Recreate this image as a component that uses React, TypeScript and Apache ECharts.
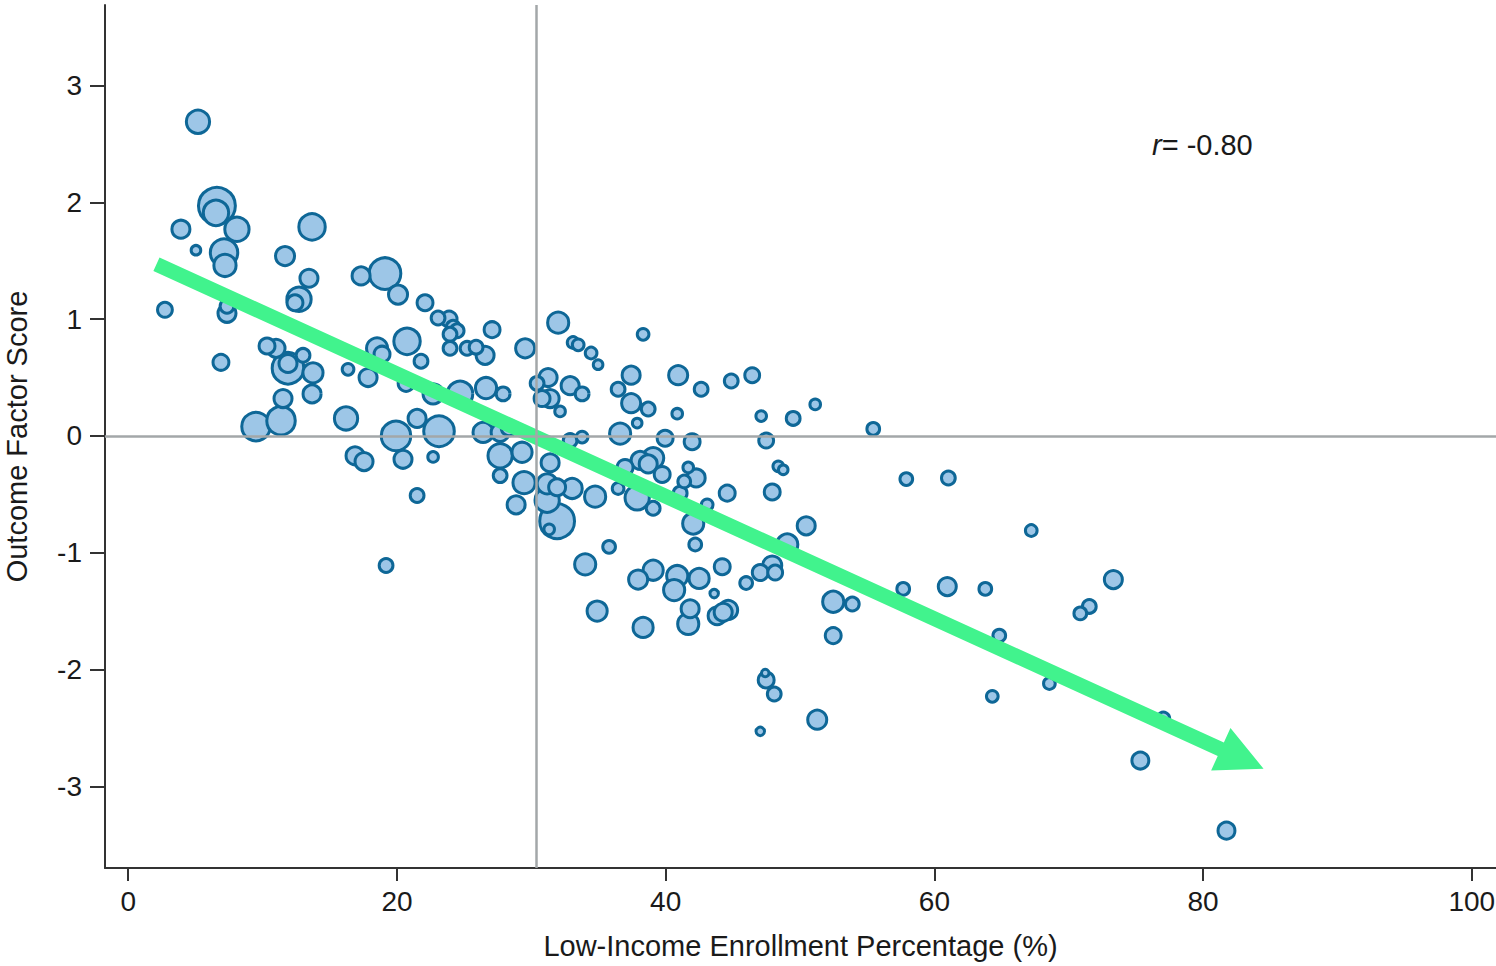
import React, { useEffect, useRef } from "react";
import * as echarts from "echarts";

// Low-income enrollment percentage (%) per school
const lowIncomePct = [
  2.73, 3.92, 5.04, 5.19, 6.6, 6.53, 8.09, 7.13, 7.2, 7.35,
  7.35, 6.9, 9.51, 11.37, 11.52, 10.33, 11.0, 11.89, 11.89, 13.01,
  13.75, 13.68, 11.67, 13.68, 13.45, 12.71, 12.41, 17.33, 19.11, 20.08,
  16.21, 16.36, 18.52, 18.89, 17.85, 20.75, 21.79, 20.68, 21.5, 19.93,
  20.45, 16.88, 17.55, 21.5, 19.19, 22.09, 23.06, 23.88, 24.18, 24.48,
  23.95, 23.95, 25.22, 25.89, 26.56, 27.08, 29.54, 32.0, 33.11, 33.49,
  34.45, 34.97, 38.32, 37.43, 36.46, 37.43, 38.7, 37.88, 36.61, 31.25,
  30.43, 30.8, 31.4, 32.89, 33.78, 32.14, 26.63, 27.9, 24.7, 22.69,
  23.13, 26.41, 27.68, 28.35, 27.68, 29.31, 27.68, 31.4, 33.78, 32.89,
  22.69, 29.46, 28.87, 31.18, 31.92, 33.04, 34.75, 31.18, 31.92, 31.33,
  36.46, 37.88, 39.07, 35.79, 34.01, 34.9, 38.32, 37.95, 39.07, 40.86,
  40.63, 42.49, 44.21, 43.61, 45.99, 47.04, 47.93, 48.15, 41.82, 41.68,
  43.83, 44.28, 44.65, 42.05, 42.2, 40.93, 42.64, 40.86, 44.88, 46.44,
  47.11, 49.49, 51.13, 47.48, 39.96, 41.97, 38.1, 39.07, 38.7, 39.74,
  36.98, 41.68, 42.27, 41.38, 48.38, 48.75, 44.58, 47.93, 50.46, 49.05,
  52.47, 53.89, 52.47, 47.41, 47.48, 48.08, 51.28, 47.04, 55.45, 57.91,
  61.04, 67.21, 57.68, 60.96, 63.79, 64.83, 64.31, 68.56, 70.86, 71.53,
  73.32, 77.04, 75.33, 81.74, 43.09, 41.08,
];

// Outcome factor score per school
const outcomeScore = [
  1.08, 1.77, 1.59, 2.69, 1.97, 1.91, 1.77, 1.57, 1.46, 1.11,
  1.05, 0.63, 0.08, 0.13, 0.32, 0.77, 0.75, 0.58, 0.62, 0.69,
  0.54, 0.36, 1.54, 1.79, 1.35, 1.17, 1.14, 1.37, 1.39, 1.21,
  0.15, 0.57, 0.75, 0.7, 0.5, 0.81, 0.64, 0.45, 0.15, 0.0,
  -0.2, -0.17, -0.22, -0.51, -1.11, 1.14, 1.01, 1.0, 0.93, 0.9,
  0.87, 0.75, 0.75, 0.76, 0.69, 0.91, 0.75, 0.97, 0.8, 0.78,
  0.71, 0.61, 0.87, 0.52, 0.4, 0.28, 0.23, 0.11, 0.02, 0.5,
  0.45, 0.32, 0.32, 0.43, 0.36, 0.21, 0.41, 0.36, 0.36, 0.36,
  0.04, 0.03, 0.03, 0.07, -0.17, -0.14, -0.34, -0.23, -0.01, -0.04,
  -0.18, -0.4, -0.59, -0.41, -0.44, -0.45, -0.52, -0.55, -0.73, -0.8,
  -0.45, -0.53, -0.62, -0.95, -1.1, -1.5, -1.64, -1.23, -1.15, -1.2,
  -1.32, -1.22, -1.12, -1.35, -1.26, -1.17, -1.11, -1.17, -1.48, -1.61,
  -1.54, -1.51, -1.49, -0.75, -0.93, 0.52, 0.4, 0.19, 0.47, 0.52,
  0.17, 0.15, 0.27, -0.04, -0.02, -0.05, -0.21, -0.19, -0.24, -0.33,
  -0.27, -0.27, -0.36, -0.39, -0.26, -0.29, -0.49, -0.48, -0.77, -0.93,
  -1.42, -1.44, -1.71, -2.03, -2.09, -2.21, -2.43, -2.53, 0.06, -0.37,
  -0.36, -0.81, -1.31, -1.29, -1.31, -1.71, -2.23, -2.12, -1.52, -1.46,
  -1.23, -2.42, -2.78, -3.38, -0.59, -0.49,
];

// Enrollment per school (bubble area)
const enrollment = [
  720, 1000, 360, 1560, 3610, 1820, 1690, 2100, 1440, 640,
  1000, 810, 2250, 2250, 1000, 810, 1000, 2720, 1000, 640,
  1210, 1000, 1100, 1960, 1000, 1690, 810, 1000, 2720, 1100,
  1560, 490, 1320, 810, 1000, 1960, 640, 810, 1000, 2400,
  1000, 1000, 1000, 640, 640, 810, 640, 810, 640, 640,
  640, 640, 640, 640, 1000, 810, 1100, 1320, 490, 490,
  490, 360, 490, 1000, 640, 1100, 640, 360, 1320, 1000,
  640, 810, 1000, 1000, 640, 420, 1320, 640, 1820, 1210,
  2560, 1210, 1000, 810, 1690, 1210, 640, 1000, 490, 640,
  420, 1440, 1000, 1210, 900, 1210, 1320, 1690, 3240, 420,
  490, 1690, 640, 560, 1320, 1210, 1210, 1100, 1210, 1320,
  1320, 1210, 810, 300, 560, 810, 1100, 720, 1000, 1320,
  1000, 1000, 1100, 1320, 560, 1100, 640, 420, 640, 720,
  420, 640, 420, 720, 810, 810, 1000, 1320, 1000, 810,
  810, 420, 1000, 560, 420, 360, 810, 810, 1000, 1320,
  1320, 640, 810, 250, 810, 640, 1100, 300, 560, 560,
  640, 490, 560, 1000, 560, 560, 490, 490, 560, 640,
  1000, 560, 900, 900, 490, 640,
];

const xTicks = [0, 20, 40, 60, 80, 100];
const yTicks = [-3, -2, -1, 0, 1, 2, 3];
const xRange = [-1.73, 101.8];
const yRange = [-3.7, 3.69];
const refLineX = 30.4;
const refLineY = 0;
const trendArrow = [2.1, 1.47, 84.5, -2.85];
const correlation = "-0.80";

const FONT = "Liberation Sans, Arial, sans-serif";

export default function App() {
  const ref = useRef<HTMLDivElement>(null);

  useEffect(() => {
    if (!ref.current) return;
    const chart = echarts.init(ref.current, undefined, { renderer: "svg" });

    const order = enrollment.map((_, i) => i).sort((a, b) => enrollment[b] - enrollment[a]);
    const points = order.map((i) => [lowIncomePct[i], outcomeScore[i], enrollment[i]]);

    const tickText = { fontFamily: FONT, fontSize: 28, color: "#1a1a1a" };
    const titleText = { fontFamily: FONT, fontSize: 29, color: "#1a1a1a" };

    chart.setOption({
      animation: false,
      backgroundColor: "#ffffff",
      grid: { left: 105, right: 0, top: 5, bottom: 98, containLabel: false, outerBoundsMode: "none" },
      xAxis: {
        type: "value",
        min: xRange[0],
        max: xRange[1],
        name: "Low-Income Enrollment Percentage (%)",
        nameLocation: "middle",
        nameGap: 63,
        nameTextStyle: titleText,
        axisLine: { show: true, onZero: false, lineStyle: { color: "#333333", width: 2 } },
        axisTick: { show: true, customValues: xTicks, length: 13, lineStyle: { color: "#333333", width: 2 } },
        axisLabel: { customValues: xTicks, margin: 19, ...tickText },
        splitLine: { show: false },
      },
      yAxis: {
        type: "value",
        min: yRange[0],
        max: yRange[1],
        name: "Outcome Factor Score",
        nameLocation: "middle",
        nameRotate: 90,
        nameGap: 74,
        nameTextStyle: titleText,
        axisLine: { show: true, onZero: false, lineStyle: { color: "#333333", width: 2 } },
        axisTick: { show: true, customValues: yTicks, length: 15, lineStyle: { color: "#333333", width: 2 } },
        axisLabel: { customValues: yTicks, margin: 23, ...tickText },
        splitLine: { show: false },
      },
      series: [
        {
          type: "line",
          data: [],
          z: 1,
          markLine: {
            silent: true,
            symbol: ["none", "none"],
            label: { show: false },
            lineStyle: { color: "#a3a7a9", width: 2.5, type: "solid" },
            data: [{ xAxis: refLineX }, { yAxis: refLineY }],
          },
        },
        {
          type: "scatter",
          z: 2,
          data: points,
          symbol: "circle",
          symbolSize: (v: number[]) => 2.1 * Math.sqrt(v[2] / 10) - 3,
          itemStyle: { color: "#9dc6e7", borderColor: "#0e6797", borderWidth: 3, opacity: 1 },
        },
        {
          type: "custom",
          z: 3,
          clip: false,
          silent: true,
          encode: { x: [0, 2], y: [1, 3] },
          data: [trendArrow],
          renderItem: (params: any, api: any) => {
            const p0 = api.coord([api.value(0), api.value(1)]);
            const p1 = api.coord([api.value(2), api.value(3)]);
            const dx = p1[0] - p0[0];
            const dy = p1[1] - p0[1];
            const len = Math.hypot(dx, dy);
            const ux = dx / len;
            const uy = dy / len;
            const nx = -uy;
            const ny = ux;
            const hw = 7.4;
            const headW = 23.3;
            const headL = 47;
            const bx = p1[0] - ux * headL;
            const by = p1[1] - uy * headL;
            const pts = [
              [p0[0] + nx * hw, p0[1] + ny * hw],
              [bx + nx * hw, by + ny * hw],
              [bx + nx * headW, by + ny * headW],
              [p1[0], p1[1]],
              [bx - nx * headW, by - ny * headW],
              [bx - nx * hw, by - ny * hw],
              [p0[0] - nx * hw, p0[1] - ny * hw],
            ];
            return { type: "polygon", shape: { points: pts }, style: { fill: "#41f38d" } };
          },
        },
      ],
      graphic: [
        {
          type: "text",
          x: 1152,
          y: 145,
          z: 10,
          style: {
            text: "{i|r}= " + correlation,
            fontFamily: FONT,
            fontSize: 29,
            fill: "#1a1a1a",
            verticalAlign: "middle",
            rich: {
              i: { fontStyle: "italic", fontFamily: FONT, fontSize: 29, fill: "#1a1a1a" },
            },
          },
        },
      ],
    });

    return () => chart.dispose();
  }, []);

  return (
    <div
      ref={ref}
      style={{ position: "absolute", left: 0, top: 0, width: 1496, height: 966, background: "#fff" }}
    />
  );
}
